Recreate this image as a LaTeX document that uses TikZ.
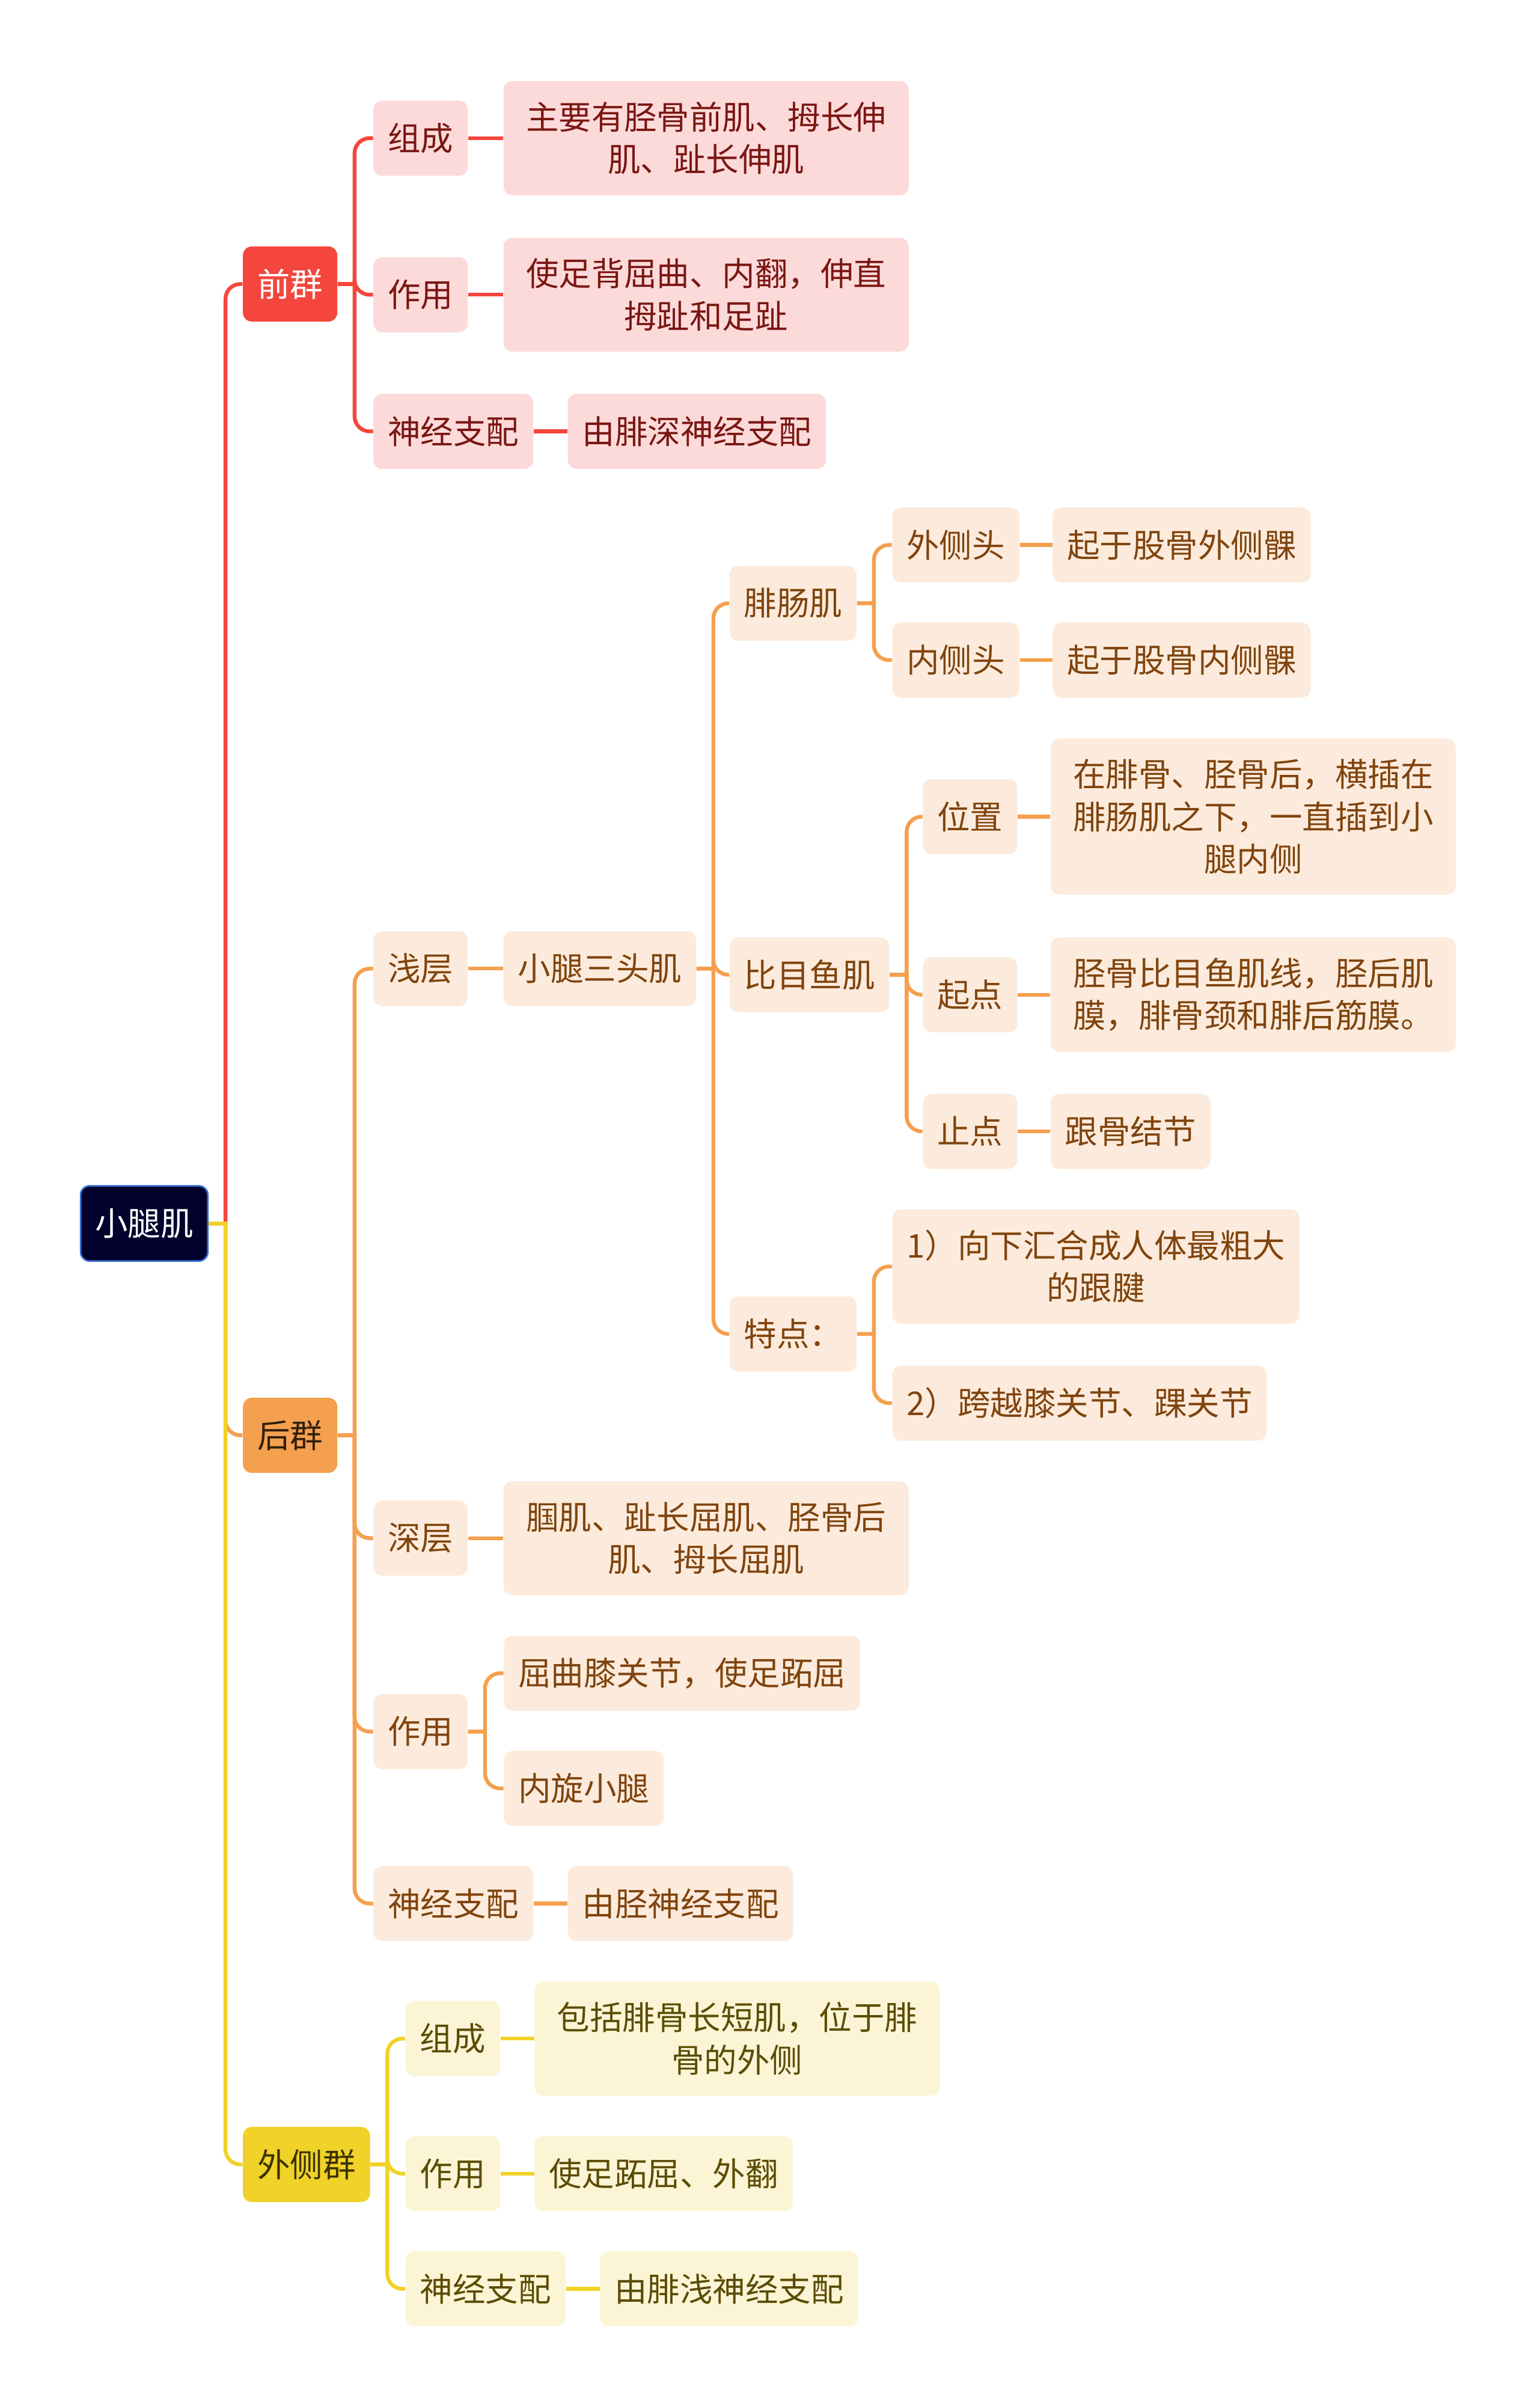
\documentclass[tikz,border=0pt]{standalone}
\usepackage{fontspec}
\setmainfont{Noto Sans CJK SC}
\usetikzlibrary{positioning}
\definecolor{rootnavy}{RGB}{2,2,44}
\definecolor{rootblue}{RGB}{52,110,210}
\definecolor{frontred}{RGB}{244,70,60}
\definecolor{frontpink}{RGB}{252,218,218}
\definecolor{fronttext}{RGB}{122,22,18}
\definecolor{backorange}{RGB}{244,160,78}
\definecolor{backpeach}{RGB}{252,235,220}
\definecolor{backtext}{RGB}{128,68,14}
\definecolor{sideyellow}{RGB}{240,210,40}
\definecolor{sidecream}{RGB}{251,245,214}
\definecolor{sidetext}{RGB}{92,76,4}

\begin{document}
\begin{tikzpicture}[x=0.2553mm, y=-0.2553mm,
  box/.style={rounded corners=1.5mm, minimum height=12.5mm, inner xsep=2.4mm, inner ysep=3.45mm, align=center, anchor=west, font=\fontsize{15.5pt}{20pt}\selectfont},
  wide/.style={minimum width=67.4mm},
  redbox/.style={box, fill=frontpink, text=fronttext},
  orangebox/.style={box, fill=backpeach, text=backtext},
  yellowbox/.style={box, fill=sidecream, text=sidetext},
  redline/.style={draw=frontred, line width=1.8pt},
  orangeline/.style={draw=backorange, line width=1.8pt},
  yellowline/.style={draw=sideyellow, line width=1.8pt},
  branch/.style={to path={-- ++(2.8mm,0) [rounded corners=2.5mm] |- (\tikztotarget)}}
]
\useasboundingbox (0,0) rectangle (1003,1568);

% Root
\node[box, fill=rootnavy, draw=rootblue, line width=0.8pt, text=white] (root) at (52,797) {小腿肌};

% Groups
\node[box, fill=frontred, text=white] (front) at (158,185) {前群};
\node[box, fill=backorange, text={rgb,255:red,50;green,32;blue,12}] (back) at (158,935) {后群};
\node[box, fill=sideyellow, text={rgb,255:red,60;green,50;blue,0}] (side) at (158,1410) {外侧群};

% Front group
\node[redbox] (fcomp) at (243,90) {组成};
\node[redbox] (fact) at (243,192) {作用};
\node[redbox] (fnerve) at (243,281) {神经支配};
\node[redbox, wide, right=5.8mm of fcomp] (fcompl) {主要有胫骨前肌、拇长伸\\肌、趾长伸肌};
\node[redbox, wide, right=5.8mm of fact] (factl) {使足背屈曲、内翻，伸直\\拇趾和足趾};
\node[redbox, right=5.6mm of fnerve] (fnervel) {由腓深神经支配};

% Back group
\node[orangebox] (shallow) at (243,631) {浅层};
\node[orangebox] (deep) at (243,1002) {深层};
\node[orangebox] (bact) at (243,1128) {作用};
\node[orangebox] (bnerve) at (243,1240) {神经支配};
\node[orangebox, right=5.8mm of shallow] (triceps) {小腿三头肌};

\node[orangebox] (gastro) at (475,393) {腓肠肌};
\node[orangebox] (soleus) at (475,635) {比目鱼肌};
\node[orangebox] (feature) at (475,869) {特点：};

\node[orangebox] (lathead) at (581,355) {外侧头};
\node[orangebox] (medhead) at (581,430) {内侧头};
\node[orangebox, right=5.4mm of lathead] (latheadl) {起于股骨外侧髁};
\node[orangebox, right=5.4mm of medhead] (medheadl) {起于股骨内侧髁};

\node[orangebox] (place) at (601,532) {位置};
\node[orangebox] (origin) at (601,648) {起点};
\node[orangebox] (insert) at (601,737) {止点};
\node[orangebox, wide, right=5.4mm of place] (placel) {在腓骨、胫骨后，横插在\\腓肠肌之下，一直插到小\\腿内侧};
\node[orangebox, wide, right=5.4mm of origin] (originl) {胫骨比目鱼肌线，胫后肌\\膜，腓骨颈和腓后筋膜。};
\node[orangebox, right=5.4mm of insert] (insertl) {跟骨结节};

\node[orangebox, wide] (feat1) at (581,825) {1）向下汇合成人体最粗大\\的跟腱};
\node[orangebox] (feat2) at (581,914) {2）跨越膝关节、踝关节};

\node[orangebox, wide, right=5.8mm of deep] (deepl) {腘肌、趾长屈肌、胫骨后\\肌、拇长屈肌};
\node[orangebox] (bact1) at (328,1090) {屈曲膝关节，使足跖屈};
\node[orangebox] (bact2) at (328,1165) {内旋小腿};
\node[orangebox, right=5.6mm of bnerve] (bnervel) {由胫神经支配};

% Lateral group
\node[yellowbox] (scomp) at (264,1328) {组成};
\node[yellowbox] (sact) at (264,1416) {作用};
\node[yellowbox] (snerve) at (264,1491) {神经支配};
\node[yellowbox, wide, right=5.6mm of scomp] (scompl) {包括腓骨长短肌，位于腓\\骨的外侧};
\node[yellowbox, right=5.6mm of sact] (sactl) {使足跖屈、外翻};
\node[yellowbox, right=5.6mm of snerve] (snervel) {由腓浅神经支配};

% Root branches
\draw[redline] (root.east) to[branch] (front.west);
\draw[orangeline] (root.east) to[branch] (back.west);
\draw[yellowline] (root.east) to[branch] (side.west);

% Front branches
\draw[redline] (front.east) to[branch] (fcomp.west);
\draw[redline] (front.east) to[branch] (fact.west);
\draw[redline] (front.east) to[branch] (fnerve.west);
\draw[redline] (fcomp) -- (fcompl);
\draw[redline] (fact) -- (factl);
\draw[redline] (fnerve) -- (fnervel);

% Back branches
\draw[orangeline] (back.east) to[branch] (shallow.west);
\draw[orangeline] (back.east) to[branch] (deep.west);
\draw[orangeline] (back.east) to[branch] (bact.west);
\draw[orangeline] (back.east) to[branch] (bnerve.west);
\draw[orangeline] (shallow) -- (triceps);
\draw[orangeline] (triceps.east) to[branch] (gastro.west);
\draw[orangeline] (triceps.east) to[branch] (soleus.west);
\draw[orangeline] (triceps.east) to[branch] (feature.west);
\draw[orangeline] (gastro.east) to[branch] (lathead.west);
\draw[orangeline] (gastro.east) to[branch] (medhead.west);
\draw[orangeline] (lathead) -- (latheadl);
\draw[orangeline] (medhead) -- (medheadl);
\draw[orangeline] (soleus.east) to[branch] (place.west);
\draw[orangeline] (soleus.east) to[branch] (origin.west);
\draw[orangeline] (soleus.east) to[branch] (insert.west);
\draw[orangeline] (place) -- (placel);
\draw[orangeline] (origin) -- (originl);
\draw[orangeline] (insert) -- (insertl);
\draw[orangeline] (feature.east) to[branch] (feat1.west);
\draw[orangeline] (feature.east) to[branch] (feat2.west);
\draw[orangeline] (deep) -- (deepl);
\draw[orangeline] (bact.east) to[branch] (bact1.west);
\draw[orangeline] (bact.east) to[branch] (bact2.west);
\draw[orangeline] (bnerve) -- (bnervel);

% Lateral branches
\draw[yellowline] (side.east) to[branch] (scomp.west);
\draw[yellowline] (side.east) to[branch] (sact.west);
\draw[yellowline] (side.east) to[branch] (snerve.west);
\draw[yellowline] (scomp) -- (scompl);
\draw[yellowline] (sact) -- (sactl);
\draw[yellowline] (snerve) -- (snervel);
\end{tikzpicture}
\end{document}
